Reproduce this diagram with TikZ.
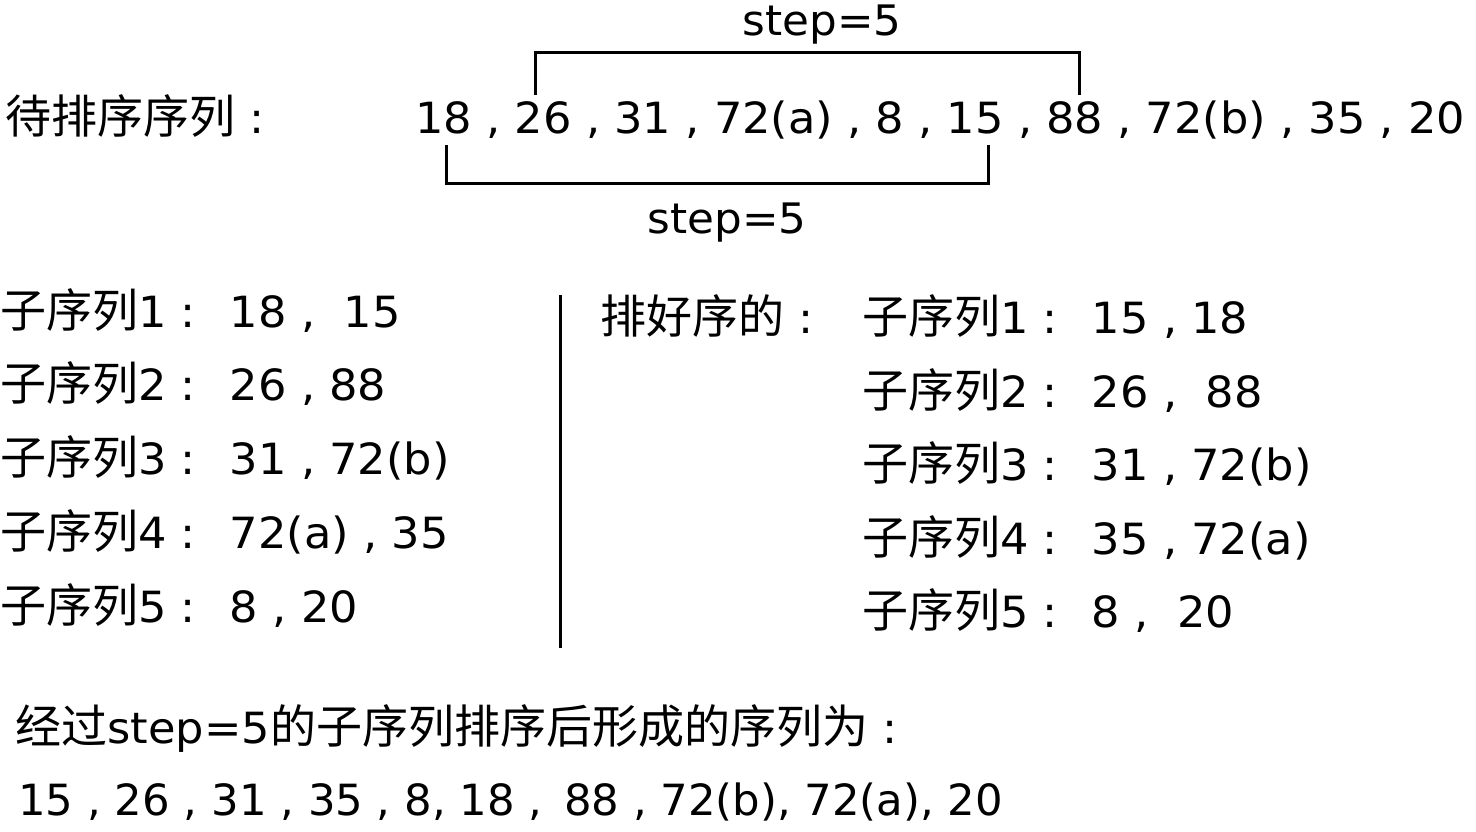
\documentclass[tikz,border=0pt]{standalone}
\usepackage{fontspec}
\setmainfont{DejaVu Sans}[FakeStretch=1.04]
\newfontfamily\zhfont{Noto Sans CJK SC}[Scale=1.07]
\newcommand\zh[1]{{\zhfont #1}}
\newcommand\zhcolon{\kern7pt:}
\newcommand\sublbl[1]{\zh{子序列}#1\zhcolon\kern17pt}
\usepackage{tikz}

\begin{document}
\begin{tikzpicture}[x=0.5pt,y=-0.5pt,
		txt/.style={anchor=base west,inner sep=0pt,font=\fontsize{21.5}{26}\selectfont},
		steplabel/.style={anchor=base,inner sep=0pt,font=\fontsize{21}{26}\selectfont},
		bracket/.style={line width=1.5pt,line join=miter}]
				\useasboundingbox (0,0) rectangle (1476,831);
				% sequence to sort
				\node[txt] (title) at (5,133) {\zh{待排序序列}\zhcolon};
				\node[txt] (seq) at (415,133) {18 , 26 , 31 , 72(a) , 8 , 15 , 88 , 72(b) , 35 , 20};
				\coordinate (a26) at (535,95);
				\coordinate (a88) at (1079,95);
				\coordinate (b18) at (446,145);
				\coordinate (b15) at (988,145);
				\draw[bracket] (a26) -- ++(0,-43) -| (a88);
				\draw[bracket] (b18) -- ++(0,38) -| (b15);
				\node[steplabel] (topstep) at (822,35) {step=5};
				\node[steplabel] (botstep) at (727,233) {step=5};
				% sub sequences
				\node[txt] (l1) at (0,327) {\sublbl{1}18 ,~ 15};
				\node[txt] (l2) at (0,400) {\sublbl{2}26 , 88};
				\node[txt] (l3) at (0,474) {\sublbl{3}31 , 72(b)};
				\node[txt] (l4) at (0,548) {\sublbl{4}72(a) , 35};
				\node[txt] (l5) at (0,622) {\sublbl{5}8 , 20};
				\coordinate (divtop) at (560,295);
				\coordinate (divbot) at (560,648);
				\draw[bracket] (divtop) -- (divbot);
				\node[txt] (sorted) at (600,333) {\zh{排好序的}\zhcolon};
				\node[txt] (r1) at (862,333) {\sublbl{1}15 , 18};
				\node[txt] (r2) at (862,407) {\sublbl{2}26 ,~ 88};
				\node[txt] (r3) at (862,480) {\sublbl{3}31 , 72(b)};
				\node[txt] (r4) at (862,554) {\sublbl{4}35 , 72(a)};
				\node[txt] (r5) at (862,627) {\sublbl{5}8 ,~ 20};
				% result
				\node[txt] (after) at (15,743) {\zh{经过}step=5\zh{的子序列排序后形成的序列为}\zhcolon};
				\node[txt,xscale=0.97] (result) at (18,815) {15 , 26 , 31 , 35 , 8, 18 ,\kern4pt{} 88 , 72(b), 72(a), 20};
			\end{tikzpicture}
\end{document}
